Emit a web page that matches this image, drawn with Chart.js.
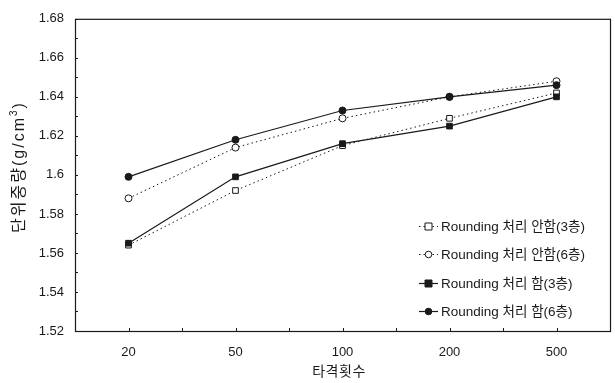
<!DOCTYPE html>
<html>
<head>
<meta charset="utf-8">
<script src="https://cdn.jsdelivr.net/npm/chart.js@4/dist/chart.umd.min.js"></script>
<style>
  html, body { margin: 0; padding: 0; background: #fff; }
  #wrap { width: 615px; height: 383px; }
</style>
</head>
<body>
<div id="wrap"><canvas id="c" width="615" height="383"></canvas></div>
<script>
// 타격횟수별 단위중량
const blowCounts = ['20', '50', '100', '200', '500'];
const noRound3 = [1.564, 1.592, 1.615, 1.629, 1.642];
const noRound6 = [1.588, 1.614, 1.629, 1.640, 1.648];
const round3   = [1.565, 1.599, 1.616, 1.625, 1.640];
const round6   = [1.599, 1.618, 1.633, 1.640, 1.646];
const seriesNames = [
  'Rounding 처리 안함(3층)',
  'Rounding 처리 안함(6층)',
  'Rounding 처리 함(3층)',
  'Rounding 처리 함(6층)'
];
const yMin = 1.52, yMax = 1.68;
const xTitle = '타격횟수';
const yTitleMain = '단위중량(g/cm';
const yTitleSup = '3';
const yTitleEnd = ')';

const INK = '#1a1a1a';
const FONT = '"Liberation Sans", Arial, "Noto Sans CJK KR", sans-serif';

const styles = [
  { dash: [1.5, 3], shape: 'rect', fill: '#fff', width: 1 },
  { dash: [1.5, 3], shape: 'circle', fill: '#fff', width: 1 },
  { dash: [], shape: 'rect', fill: INK, width: 1.2 },
  { dash: [], shape: 'circle', fill: INK, width: 1.2 }
];
const values = [noRound3, noRound6, round3, round6];

// filled-marker series are drawn on top of the open ones
const datasets = values.map((v, i) => ({
  label: seriesNames[i],
  data: v,
  order: 4 - i,
  borderColor: INK,
  borderWidth: styles[i].width,
  borderDash: styles[i].dash,
  backgroundColor: styles[i].fill,
  pointStyle: styles[i].shape,
  pointRadius: styles[i].shape === 'rect' ? 4 : 3.5,
  pointBorderWidth: 1,
  pointBorderColor: INK,
  pointBackgroundColor: styles[i].fill,
  tension: 0,
  fill: false
}));

function drawMarker(ctx, shape, fill, x, y) {
  ctx.save();
  ctx.setLineDash([]);
  ctx.lineWidth = 1;
  ctx.strokeStyle = INK;
  ctx.fillStyle = fill;
  ctx.beginPath();
  if (shape === 'rect') {
    ctx.rect(x - 3.5, y - 3.5, 7, 7);
  } else {
    ctx.arc(x, y, 3.3, 0, Math.PI * 2);
  }
  ctx.fill();
  ctx.stroke();
  ctx.restore();
}

const framePlugin = {
  id: 'frame',
  afterDraw(chart) {
    const { ctx, chartArea: a, scales } = chart;
    ctx.save();
    // plot frame
    ctx.strokeStyle = INK;
    ctx.lineWidth = 1.2;
    ctx.setLineDash([]);
    ctx.strokeRect(a.left + 0.5, a.top + 0.5, a.right - a.left, a.bottom - a.top);
    // inward ticks on y axis every 0.01
    ctx.lineWidth = 1;
    for (let k = 0; k <= 16; k++) {
      const v = yMin + k * 0.01;
      const py = Math.round(scales.y.getPixelForValue(v)) + 0.5;
      ctx.beginPath();
      ctx.moveTo(a.left, py);
      ctx.lineTo(a.left + 3, py);
      ctx.stroke();
    }
    // inward ticks on x axis at category centres and midpoints
    for (let i = 0; i < blowCounts.length; i++) {
      const c = scales.x.getPixelForValue(i);
      const pts = [c];
      if (i < blowCounts.length - 1) pts.push((c + scales.x.getPixelForValue(i + 1)) / 2);
      pts.forEach(px => {
        const xx = Math.round(px) + 0.5;
        ctx.beginPath();
        ctx.moveTo(xx, a.bottom);
        ctx.lineTo(xx, a.bottom - 3);
        ctx.stroke();
      });
    }
    // axis titles
    ctx.fillStyle = INK;
    ctx.font = '14px ' + FONT;
    ctx.textAlign = 'center';
    ctx.textBaseline = 'middle';
    ctx.letterSpacing = '0.5px';
    ctx.fillText(xTitle, 339, 372);

    ctx.save();
    ctx.translate(20, 167);
    ctx.rotate(-Math.PI / 2);
    ctx.font = '16px ' + FONT;
    ctx.letterSpacing = '2px';
    const supFont = '10px ' + FONT;
    const wMain = ctx.measureText(yTitleMain).width;
    ctx.font = supFont;
    const wSup = ctx.measureText(yTitleSup).width;
    ctx.font = '16px ' + FONT;
    const wEnd = ctx.measureText(yTitleEnd).width;
    const total = wMain + wSup + wEnd;
    let x0 = -total / 2;
    ctx.textAlign = 'left';
    ctx.fillText(yTitleMain, x0, 0);
    x0 += wMain;
    ctx.font = supFont;
    ctx.fillText(yTitleSup, x0, -6);
    x0 += wSup;
    ctx.font = '16px ' + FONT;
    ctx.fillText(yTitleEnd, x0, 0);
    ctx.restore();

    // legend inside plot, lower right
    ctx.letterSpacing = '0px';
    const lx0 = 419, lx1 = 438, tx = 441;
    const rows = [226, 254, 283, 311];
    ctx.font = '13.5px ' + FONT;
    ctx.textAlign = 'left';
    rows.forEach((ry, i) => {
      const s = styles[i];
      ctx.save();
      ctx.strokeStyle = INK;
      ctx.lineWidth = s.width;
      ctx.setLineDash(s.dash);
      ctx.beginPath();
      ctx.moveTo(lx0, ry + 0.5);
      ctx.lineTo(lx1, ry + 0.5);
      ctx.stroke();
      ctx.restore();
      drawMarker(ctx, s.shape, s.fill, (lx0 + lx1) / 2, ry + 0.5);
      ctx.fillStyle = INK;
      ctx.fillText(seriesNames[i], tx, ry + 1);
    });
    ctx.restore();
  }
};

new Chart(document.getElementById('c'), {
  type: 'line',
  data: { labels: blowCounts, datasets },
  options: {
    responsive: false,
    animation: false,
    devicePixelRatio: 1,
    layout: { padding: { left: 0, right: 4, top: 12, bottom: 0 } },
    plugins: {
      legend: { display: false },
      tooltip: { enabled: false }
    },
    scales: {
      x: {
        offset: true,
        grid: { display: false, drawTicks: false },
        border: { display: false },
        ticks: {
          color: INK,
          font: { family: FONT, size: 13 },
          padding: 14
        },
        afterFit(s) { s.height = 52; }
      },
      y: {
        min: yMin,
        max: yMax,
        grid: { display: false, drawTicks: false },
        border: { display: false },
        ticks: {
          stepSize: 0.01,
          autoSkip: false,
          color: INK,
          font: { family: FONT, size: 13 },
          padding: 11,
          callback(v) {
            const n = Math.round(v * 100);
            if (n % 2 !== 0) return '';
            return String(Number((n / 100).toFixed(2)));
          }
        },
        afterFit(s) { s.width = 75; }
      }
    }
  },
  plugins: [framePlugin]
});
</script>
</body>
</html>
